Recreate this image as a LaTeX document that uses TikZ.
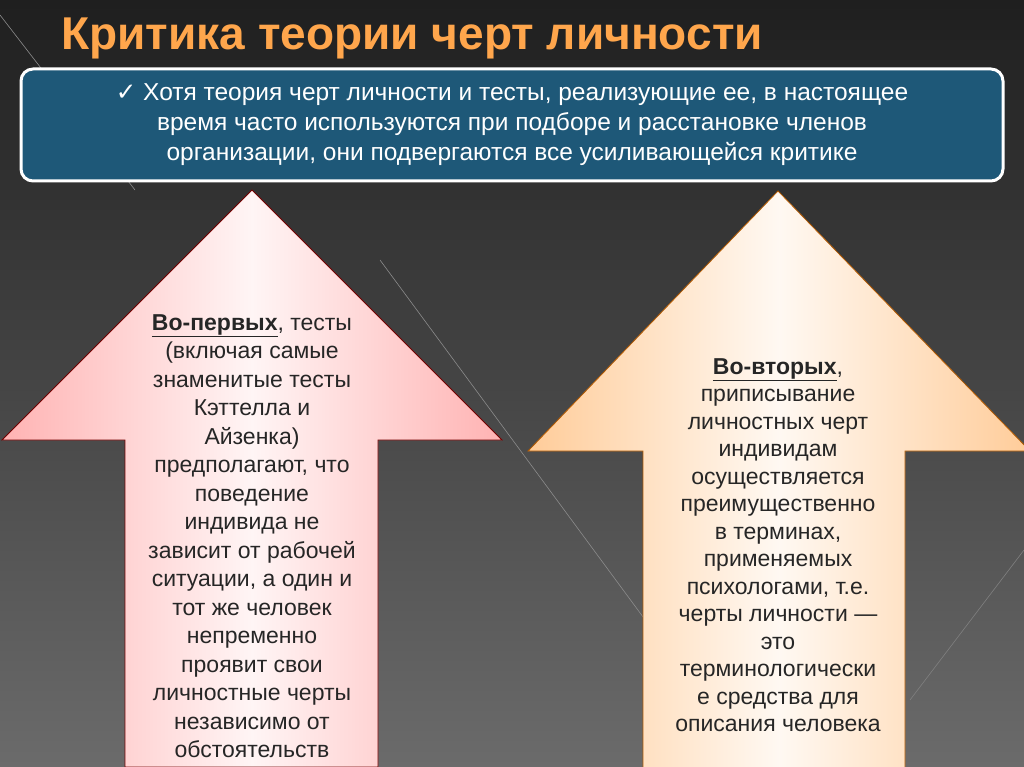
\documentclass[tikz,border=0pt]{standalone}
\usepackage{fontspec}
\setmainfont{Liberation Sans}
\newfontfamily\symfont{DejaVu Sans}
\usetikzlibrary{positioning}
\colorlet{pinkedge}{red!45!black}
\colorlet{peachedge}{orange!70!black}
\definecolor{boxblue}{HTML}{1E5878}
\tikzset{
  bodytext/.style={align=center,font=\fontsize{23}{#1}\selectfont,text=black!85},
  upbox/.style={draw=#1,line width=0.8pt},
}
\begin{document}
\begin{tikzpicture}[x=1pt,y=-1pt]

        % background
        \shade[top color=black!88,bottom color=black!58] (0,0) rectangle (1024,767);
        \useasboundingbox (0,0) rectangle (1024,767);
        \draw[black!45,line width=0.6pt] (0,15) -- (135,190);
        \draw[black!45,line width=0.6pt] (380,260) -- (660,640);
        \draw[black!50,line width=0.6pt] (1024,550) -- (910,700);

        %title
        \node[anchor=west,text=orange!70!white,font=\fontsize{46}{48}\selectfont\bfseries] (title) at (58,38) {Критика теории черт личности};

        %blue box
        \node[draw=white,line width=3pt,fill=boxblue,rounded corners=12pt,
              minimum width=982pt,minimum height=112pt,text=white,align=center,
              font=\fontsize{24.5}{30}\selectfont] (intro) at (512,125)
              {{\symfont ✓} Хотя теория черт личности и тесты, реализующие ее, в настоящее\\
               время часто используются при подборе и расстановке членов\\
               организации, они подвергаются все усиливающейся критике};

        %left arrow
        \shade[upbox=pinkedge,left color=red!30!white,right color=red!30!white,middle color=red!4!white]
          (252,190) -- (502,440) -- (378,440) -- (378,767) -- (125,767) -- (125,440) -- (2,440) -- cycle;
        \node[bodytext=28.5] (first) at (252,536)
              {\textbf{\underline{Во-первых}}, тесты\\(включая самые\\знаменитые тесты\\Кэттелла и\\Айзенка)\\предполагают, что\\поведение\\индивида не\\зависит от рабочей\\ситуации, а один и\\тот же человек\\непременно\\проявит свои\\личностные черты\\независимо от\\обстоятельств};

        %right arrow
        \shade[upbox=peachedge,left color=orange!40!white,right color=orange!40!white,middle color=orange!5!white]
          (778,191) -- (1030,451) -- (905,451) -- (905,770) -- (643,770) -- (643,451) -- (528,451) -- cycle;
        \node[bodytext=27.5] (second) at (778,545)
              {\textbf{\underline{Во-вторых}},\\приписывание\\личностных черт\\индивидам\\осуществляется\\преимущественно\\в терминах,\\применяемых\\психологами, т.е.\\черты личности —\\это\\терминологически\\е средства для\\описания человека};

    \end{tikzpicture}
\end{document}
